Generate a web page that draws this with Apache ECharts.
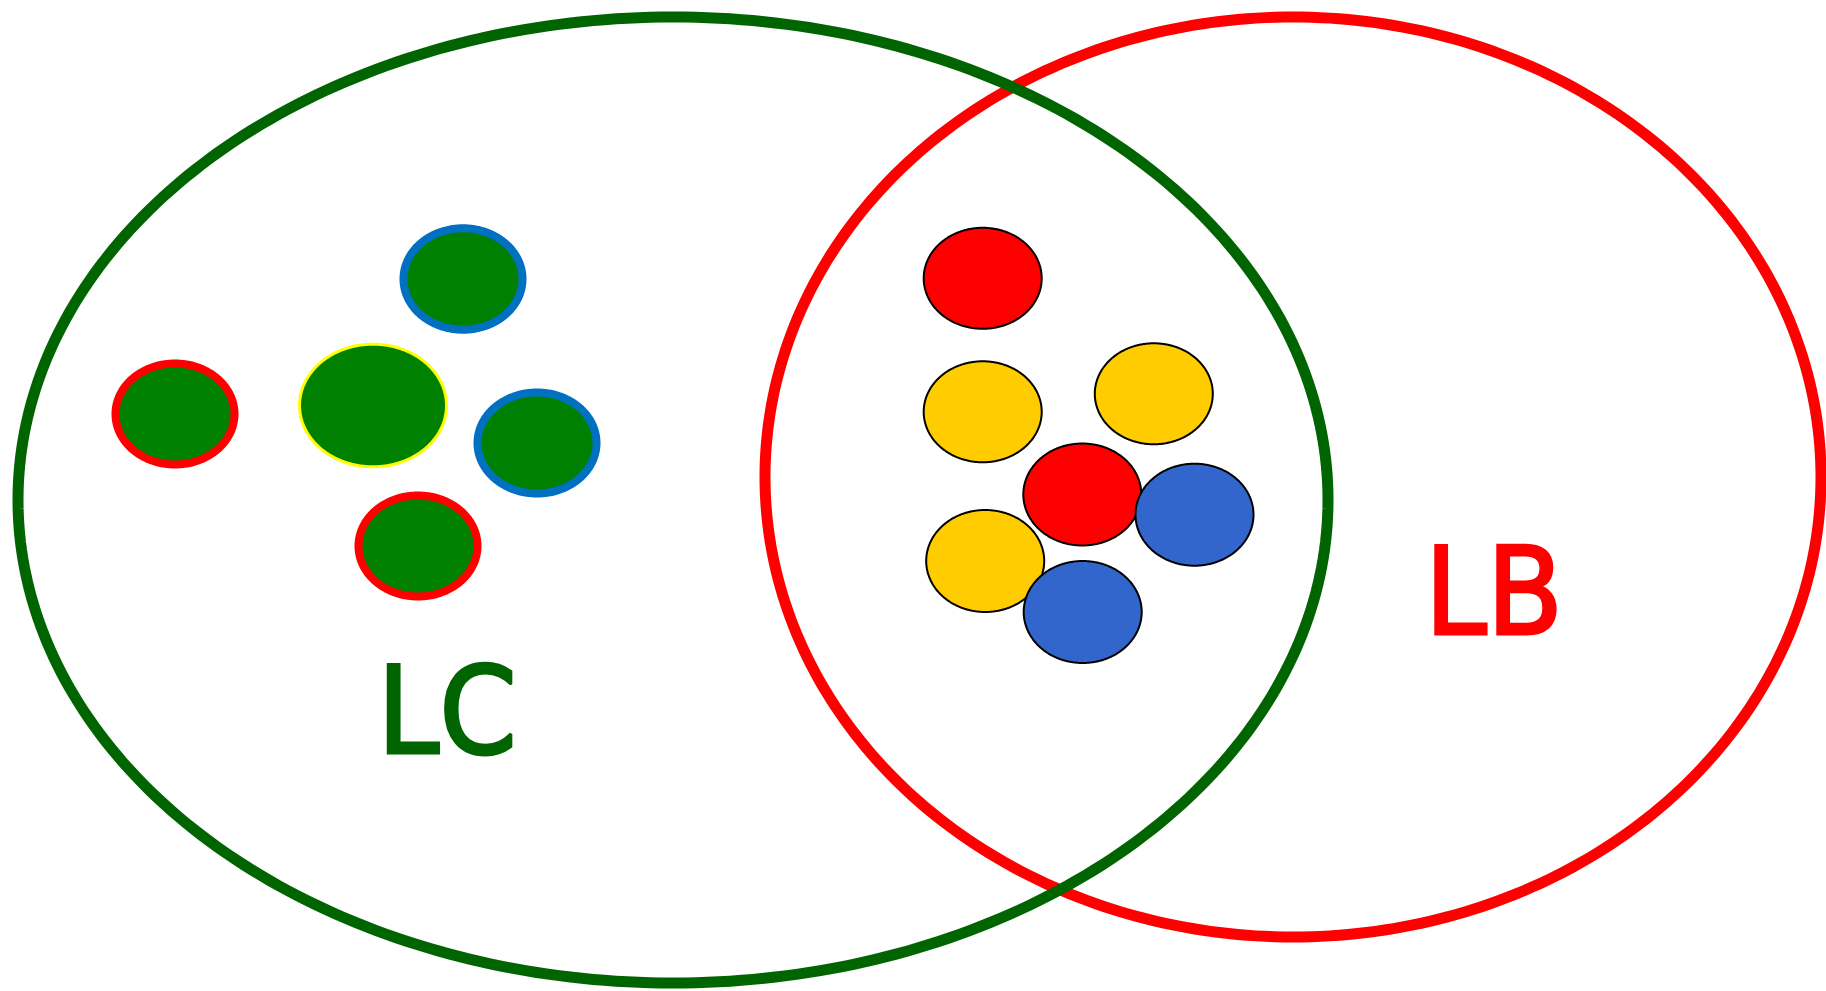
<!DOCTYPE html>
<html>
<head>
<meta charset="utf-8">
<script src="https://cdn.jsdelivr.net/npm/echarts@6/dist/echarts.min.js"></script>
<style>
html,body{margin:0;padding:0;background:#ffffff;}
#chart{width:1826px;height:991px;}
</style>
</head>
<body>
<div id="chart"></div>
<script>
// ---- data (diagram coordinate space: 0..1826 by 0..991) ----
const setNames = ['LB', 'LC'];
const setCX = [1293, 673];
const setCY = [477, 500];
const setRX = [528, 655];
const setRY = [460, 483];
const setLabelX = [1494, 447];
const setLabelY = [603, 722];

// green marbles lying only in LC, with their ring colour
const lcRing = ['red', 'yellow', 'blue', 'blue', 'red'];
const lcX = [175, 373, 463, 537, 418];
const lcY = [414, 405.5, 279, 443, 546];
const lcRX = [59.5, 73.5, 59.5, 59.5, 59.5];
const lcRY = [50.5, 61.3, 50.7, 50.5, 50.5];

// marbles lying in LC ∩ LB
const midFill = ['red', 'yellow', 'yellow', 'red', 'blue', 'yellow', 'blue'];
const midX = [982.7, 982.7, 1153.8, 1082.3, 1194.5, 985.2, 1082.7];
const midY = [278.3, 411.8, 393.8, 494.5, 514.7, 561, 612];
const midRX = [59, 59, 59, 59, 59, 59, 59];
const midRY = [50.5, 50.5, 50.5, 51, 51, 51, 51];

// ---- styles ----
const setColor = {LB: '#FF0000', LC: '#006400'};
const ringColor = {red: '#FF0000', yellow: '#FFFF00', blue: '#0070C0'};
const ringWidth = {red: 8, yellow: 3, blue: 8};
const marbleFill = {red: '#FF0000', yellow: '#FFCC00', blue: '#3366CC'};

function ellipseItem(api, fill, stroke, lw) {
  const cx = api.value(0), cy = api.value(1), rx = api.value(2), ry = api.value(3);
  const N = 360;
  const pts = [];
  for (let k = 0; k < N; k++) {
    const t = 2 * Math.PI * k / N;
    pts.push(api.coord([cx + rx * Math.cos(t), cy + ry * Math.sin(t)]));
  }
  return {
    type: 'polygon',
    shape: {points: pts},
    style: {fill: fill, stroke: stroke, lineWidth: lw, lineJoin: 'round'}
  };
}

const chart = echarts.init(document.getElementById('chart'), null, {renderer: 'canvas'});
chart.setOption({
  animation: false,
  backgroundColor: '#ffffff',
  grid: {left: 0, right: 0, top: 0, bottom: 0},
  xAxis: {type: 'value', min: 0, max: 1826, show: false},
  yAxis: {type: 'value', min: 0, max: 991, inverse: true, show: false},
  series: [
    {
      type: 'custom',
      name: 'sets',
      coordinateSystem: 'cartesian2d',
      data: setNames.map((n, i) => [setCX[i], setCY[i], setRX[i], setRY[i]]),
      renderItem: function (params, api) {
        const n = setNames[params.dataIndex];
        return ellipseItem(api, 'none', setColor[n], 11);
      },
      z: 1
    },
    {
      type: 'custom',
      name: 'LC only',
      coordinateSystem: 'cartesian2d',
      data: lcRing.map((r, i) => [lcX[i], lcY[i], lcRX[i], lcRY[i]]),
      renderItem: function (params, api) {
        const r = lcRing[params.dataIndex];
        return ellipseItem(api, '#008000', ringColor[r], ringWidth[r]);
      },
      z: 2
    },
    {
      type: 'custom',
      name: 'LC and LB',
      coordinateSystem: 'cartesian2d',
      data: midFill.map((f, i) => [midX[i], midY[i], midRX[i], midRY[i]]),
      renderItem: function (params, api) {
        const f = midFill[params.dataIndex];
        return ellipseItem(api, marbleFill[f], '#000000', 2);
      },
      z: 3
    },
    {
      type: 'custom',
      name: 'labels',
      coordinateSystem: 'cartesian2d',
      data: setNames.map((n, i) => [setLabelX[i], setLabelY[i]]),
      renderItem: function (params, api) {
        const n = setNames[params.dataIndex];
        const c = api.coord([api.value(0), api.value(1)]);
        return {
          type: 'text',
          x: c[0], y: c[1],
          scaleX: 0.92,
          style: {
            text: n,
            x: 0, y: 0,
            align: 'center',
            verticalAlign: 'middle',
            font: 'normal 121px "DejaVu Sans"',
            fill: setColor[n],
            stroke: setColor[n],
            lineWidth: 3,
            lineJoin: 'round'
          }
        };
      },
      z: 4
    }
  ]
});
</script>
</body>
</html>
